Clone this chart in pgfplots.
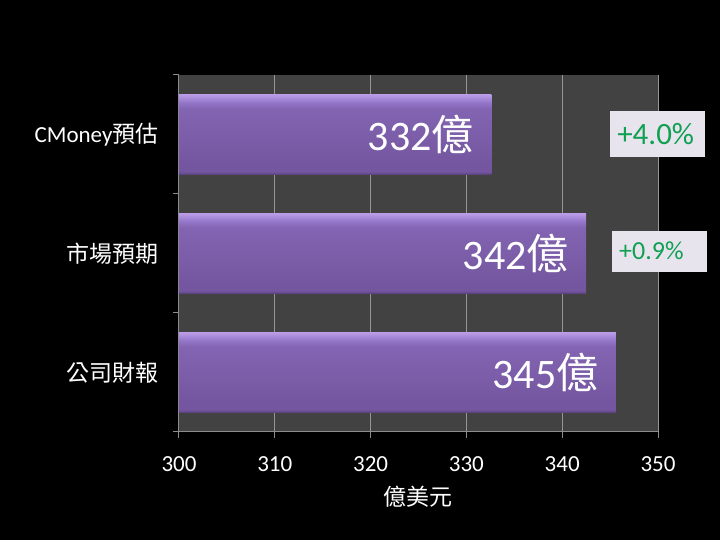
\documentclass[border=0pt]{standalone}
\usepackage{pgfplots}
\pgfplotsset{compat=1.18}
\usepackage{fontspec}
\setmainfont{Carlito}
\newfontfamily\cjk{Noto Sans CJK TC}

\definecolor{plotbg}{RGB}{66,66,66}
\definecolor{gridgray}{RGB}{150,150,150}
\definecolor{axisgray}{RGB}{140,140,140}
\definecolor{barlight}{RGB}{188,158,232}
\definecolor{barhigh}{RGB}{150,120,204}
\definecolor{barmid}{RGB}{130,100,178}
\definecolor{barlow}{RGB}{116,86,160}
\definecolor{baredge}{RGB}{84,60,118}
\definecolor{pctgreen}{RGB}{16,160,82}
\definecolor{pctbox}{RGB}{232,228,238}

% shading fitted to each bar: the bar spans 25bp..75bp
\pgfdeclareverticalshading{barshade}{100bp}{
  color(0bp)=(baredge); color(25bp)=(baredge); color(27bp)=(barlow);
  color(32bp)=(barlow); color(66bp)=(barmid); color(70bp)=(barhigh);
  color(75bp)=(barlight); color(100bp)=(barlight)}

\tikzset{pctnode/.style={fill=pctbox, text=pctgreen, anchor=west, inner xsep=7pt, align=left, text width=81pt}}

\begin{document}
\begin{tikzpicture}
\fill[black, use as bounding box] (-179pt,-108pt) rectangle (541pt,432pt);

\begin{axis}[
at={(0,0)}, anchor=south west,
scale only axis,
width=479pt, height=357pt,
xmin=300, xmax=350,
ymin=-0.5, ymax=2.5,
xtick={300,310,...,350},
ytick={-0.5,0.5,1.5,2.5},
yticklabels={},
extra y ticks={0,1,2},
extra y tick labels={{\cjk 公司財報},{\cjk 市場預期},{CMoney\cjk 預估}},
extra y tick style={major tick length=0pt, grid=none},
major tick length=6pt,
tick align=outside,
tick pos=left,
axis x line*=bottom,
axis y line*=left,
axis line style={draw=axisgray, line width=1pt, -},
tick style={draw=axisgray, line width=1pt},
xmajorgrids,
grid style={gridgray, line width=1pt},
axis background/.style={fill=plotbg},
ticklabel style={font=\fontsize{23}{23}\selectfont, text=white},
/pgf/number format/assume math mode=true,
xticklabel style={yshift=-15pt},
yticklabel style={xshift=-17pt},
xlabel={\cjk 億美元},
xlabel style={font=\fontsize{23}{23}\selectfont, text=white, yshift=-8pt},
xbar, bar width=0.68, bar shift=0pt,
clip=false,
point meta=explicit symbolic,
nodes near coords={\pgfplotspointmeta{\cjk 億}},
every node near coord/.append style={anchor=east, xshift=-14pt, text=white, font=\fontsize{42}{42}\selectfont},
every axis plot/.append style={draw=none, shading=barshade},
]
\addplot table[meta=lab] {
x y lab
345.6 0 345
};
\addplot table[meta=lab] {
x y lab
342.5 1 342
};
\addplot table[meta=lab] {
x y lab
332.6 2 332
};

\node[pctnode, font=\fontsize{31}{31}\selectfont, minimum height=46pt] at (axis cs:345,2) {+4.0\%};
\node[pctnode, font=\fontsize{26}{26}\selectfont, minimum height=41pt] at (axis cs:345.2,1.02) {+0.9\%};
\end{axis}
\end{tikzpicture}
\end{document}
